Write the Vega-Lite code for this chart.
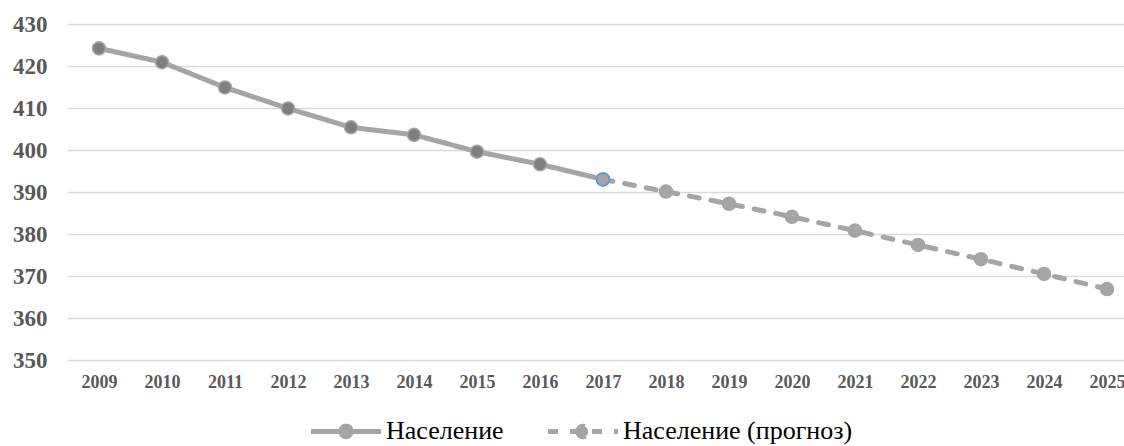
{
  "$schema": "https://vega.github.io/schema/vega-lite/v6.json",
  "width": 1057,
  "height": 336,
  "autosize": {"type": "none"},
  "padding": {"left": 67, "top": 24, "right": 0, "bottom": 86},
  "background": "white",
  "config": {
    "view": {"stroke": null},
    "font": "Liberation Serif"
  },
  "data": {
    "values": [
      {"year": "2009", "value": 424.2, "series": "Население"},
      {"year": "2010", "value": 420.9, "series": "Население"},
      {"year": "2011", "value": 414.9, "series": "Население"},
      {"year": "2012", "value": 409.9, "series": "Население"},
      {"year": "2013", "value": 405.4, "series": "Население"},
      {"year": "2014", "value": 403.6, "series": "Население"},
      {"year": "2015", "value": 399.6, "series": "Население"},
      {"year": "2016", "value": 396.6, "series": "Население"},
      {"year": "2017", "value": 393.0, "series": "Население"},
      {"year": "2017", "value": 393.0, "series": "Население (прогноз)"},
      {"year": "2018", "value": 390.1, "series": "Население (прогноз)"},
      {"year": "2019", "value": 387.2, "series": "Население (прогноз)"},
      {"year": "2020", "value": 384.1, "series": "Население (прогноз)"},
      {"year": "2021", "value": 380.8, "series": "Население (прогноз)"},
      {"year": "2022", "value": 377.4, "series": "Население (прогноз)"},
      {"year": "2023", "value": 374.0, "series": "Население (прогноз)"},
      {"year": "2024", "value": 370.5, "series": "Население (прогноз)"},
      {"year": "2025", "value": 366.9, "series": "Население (прогноз)"}
    ]
  },
  "encoding": {
    "x": {
      "field": "year",
      "type": "ordinal",
      "scale": {"type": "point", "padding": 0.389, "align": 0.653},
      "axis": {
        "title": null,
        "labelAngle": 0,
        "domain": false,
        "ticks": false,
        "grid": false,
        "labelFont": "Liberation Serif",
        "labelFontSize": 18,
        "labelFontWeight": "bold",
        "labelColor": "#595959",
        "labelPadding": 13
      }
    },
    "y": {
      "field": "value",
      "type": "quantitative",
      "scale": {"domain": [350, 430], "nice": false, "zero": false},
      "axis": {
        "title": null,
        "values": [350, 360, 370, 380, 390, 400, 410, 420, 430],
        "domain": false,
        "ticks": false,
        "grid": true,
        "gridColor": "#d9d9d9",
        "gridWidth": 1.5,
        "labelFont": "Liberation Serif",
        "labelFontSize": 23,
        "labelFontWeight": "bold",
        "labelColor": "#595959",
        "labelPadding": 20
      }
    }
  },
  "layer": [
    {
      "mark": {"type": "line", "strokeWidth": 5, "strokeCap": "round", "strokeJoin": "round"},
      "encoding": {
        "color": {
          "field": "series",
          "type": "nominal",
          "scale": {"domain": ["Население", "Население (прогноз)"], "range": ["#a5a5a5", "#a5a5a5"]},
          "legend": {
            "title": null,
            "orient": "none",
            "direction": "horizontal",
            "legendX": 266,
            "legendY": 394,
            "padding": 0,
            "symbolType": "M-5,0H5M-0.75,0A0.75,0.75 0 1,1 0.75,0A0.75,0.75 0 1,1 -0.75,0Z",
            "symbolSize": 196,
            "symbolStrokeWidth": 5,
            "labelFont": "Liberation Serif",
            "labelFontSize": 26,
            "labelColor": "#000000",
            "labelOffset": 27,
            "columnPadding": 34,
            "labelLimit": 400,
            "encode": {
              "symbols": {
                "update": {
                  "fill": {"signal": "datum.value === 'Население' ? '#7f7f7f' : '#a5a5a5'"},
                  "stroke": {"value": "#a5a5a5"},
                  "opacity": {"value": 1}
                }
              }
            }
          }
        },
        "strokeDash": {
          "field": "series",
          "type": "nominal",
          "scale": {"domain": ["Население", "Население (прогноз)"], "range": [[1, 0], [10, 12]]},
          "legend": {
            "title": null,
            "orient": "none",
            "direction": "horizontal",
            "legendX": 266,
            "legendY": 394,
            "padding": 0,
            "symbolType": "M-5,0H5M-0.75,0A0.75,0.75 0 1,1 0.75,0A0.75,0.75 0 1,1 -0.75,0Z",
            "symbolSize": 196,
            "symbolStrokeWidth": 5,
            "labelFont": "Liberation Serif",
            "labelFontSize": 26,
            "labelColor": "#000000",
            "labelOffset": 27,
            "columnPadding": 34,
            "labelLimit": 400,
            "encode": {
              "symbols": {
                "update": {
                  "fill": {"signal": "datum.value === 'Население' ? '#7f7f7f' : '#a5a5a5'"},
                  "stroke": {"value": "#a5a5a5"},
                  "opacity": {"value": 1}
                }
              }
            }
          }
        }
      }
    },
    {
      "mark": {"type": "point", "filled": true, "size": 170, "opacity": 1, "strokeWidth": 1.5},
      "encoding": {
        "fill": {
          "field": "series",
          "type": "nominal",
          "scale": {"domain": ["Население", "Население (прогноз)"], "range": ["#7f7f7f", "#a5a5a5"]},
          "legend": null
        },
        "stroke": {
          "condition": {"test": "datum.year === '2017'", "value": "#5b9bd5"},
          "value": "#a5a5a5"
        }
      }
    }
  ]
}
